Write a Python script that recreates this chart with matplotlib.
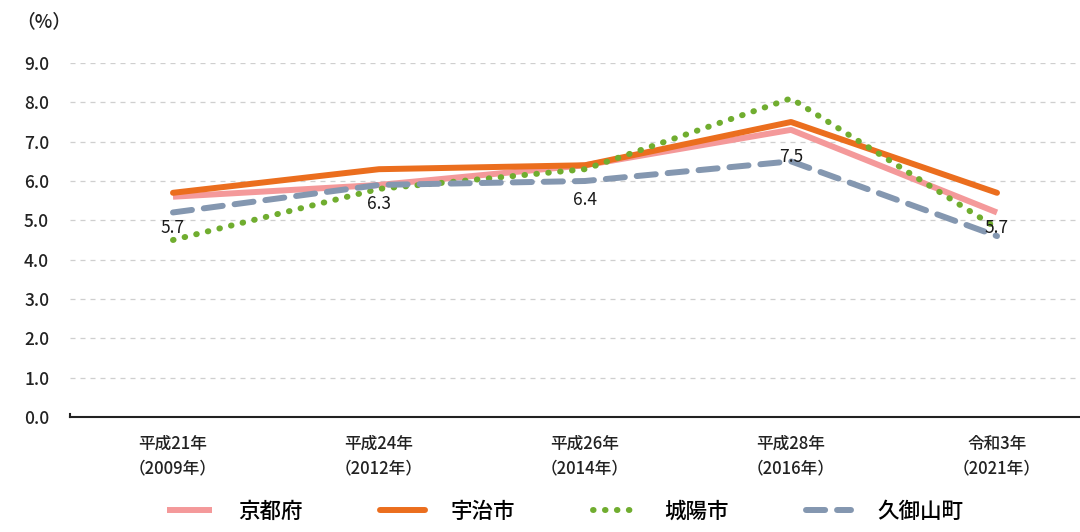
import matplotlib
matplotlib.use("Agg")
import matplotlib.pyplot as plt

plt.rcParams['font.family'] = ['Noto Sans CJK JP', 'DejaVu Sans']

categories = ["平成21年\n（2009年）", "平成24年\n（2012年）", "平成26年\n（2014年）", "平成28年\n（2016年）", "令和3年\n（2021年）"]
kyoto_fu = [5.6, 5.9, 6.4, 7.3, 5.2]
uji_shi = [5.7, 6.3, 6.4, 7.5, 5.7]
joyo_shi = [4.5, 5.8, 6.3, 8.1, 4.8]
kumiyama = [5.2, 5.9, 6.0, 6.5, 4.6]
series_names = ["京都府", "宇治市", "城陽市", "久御山町"]
yticks = [0, 1, 2, 3, 4, 5, 6, 7, 8, 9]

W, H = 1080, 532
fig = plt.figure(figsize=(W / 100, H / 100), dpi=100)
ax_left, ax_right = 70, 1100
ax_top, ax_bottom = 63, 417
ax = fig.add_axes([ax_left / W, 1 - ax_bottom / H, (ax_right - ax_left) / W, (ax_bottom - ax_top) / H])

x = list(range(len(categories)))
l1, = ax.plot(x, kyoto_fu, color="#F4999A", lw=4.3, solid_capstyle="butt", label=series_names[0], zorder=3)
l2, = ax.plot(x, uji_shi, color="#EB6E1E", lw=4.3, solid_capstyle="round", label=series_names[1], zorder=4)
l3, = ax.plot(x, joyo_shi, color="#70AD2F", lw=4.3, linestyle=(0, (0.1, 1.9)), dash_capstyle="round", label=series_names[2], zorder=5)
l4, = ax.plot(x, kumiyama, color="#8497B0", lw=4.3, linestyle=(0, (3.2, 2.0)), dash_capstyle="round", label=series_names[3], zorder=5)

for xi, v in zip(x, uji_shi):
    ax.annotate(f"{v:.1f}", (xi, v), xytext=(0, -35), textcoords="offset pixels",
                ha="center", va="center", fontsize=12.5, color="#1a1a1a", zorder=6)

ax.set_xlim(-0.5, 4.5)
ax.set_ylim(0, 9)
ax.set_yticks(yticks)
ax.set_yticklabels([f"{t:.1f}" for t in yticks], fontsize=12.5, color="#222222", fontweight="medium")
ax.tick_params(axis="y", length=0, pad=15)
ax.set_xticks(x)
ax.set_xticklabels(categories, fontsize=12, color="#222222", linespacing=1.45, fontweight="medium")
ax.tick_params(axis="x", length=0, pad=13)
for s in ["top", "right", "left"]:
    ax.spines[s].set_visible(False)
ax.spines["bottom"].set_color("#222222")
ax.spines["bottom"].set_linewidth(1.5)
for t in yticks[1:]:
    ax.axhline(t, color="#CFCFCF", lw=0.9, linestyle=(0, (4, 4)), zorder=1)
ax.plot([-0.5, -0.5], [0, 0.08], color="#222222", lw=1.5, clip_on=False, zorder=2)

fig.text(44 / W, 1 - 22 / H, "（%）", fontsize=13.5, ha="center", va="center", color="#222222",
         fontweight="medium")

fig.legend(handles=[l1, l2, l3, l4], loc="center", bbox_to_anchor=(565 / W, 1 - 512 / H),
           ncol=4, frameon=False, handlelength=2.1, handletextpad=1.2,
           columnspacing=3.6, prop={"size": 15.5, "weight": "medium"})

fig.savefig("out.png", dpi=100)
